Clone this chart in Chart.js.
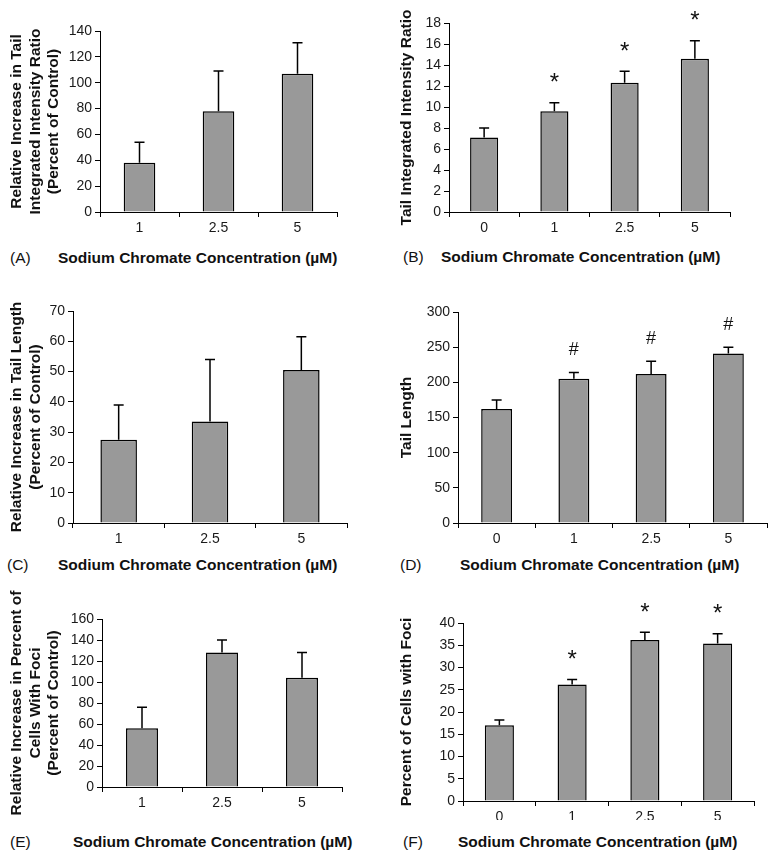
<!DOCTYPE html>
<html>
<head>
<meta charset="utf-8">
<script src="https://cdn.jsdelivr.net/npm/chart.js@4.4.1/dist/chart.umd.min.js"></script>
<style>
  body { margin: 0; background: #fff; font-family: "Liberation Sans", Arial, sans-serif; }
  #page { position: relative; width: 776px; height: 858px; overflow: hidden; }
  canvas { position: absolute; }
  .lbl { position: absolute; font-size: 15.5px; line-height: 18px; color: #111; white-space: nowrap; }
  .xt { font-weight: bold; }
</style>
</head>
<body>
<div id="page"></div>
<script>
// --- Data ---
const doses3 = ['1', '2.5', '5'];
const doses4 = ['0', '1', '2.5', '5'];

// (A) relative increase in tail integrated intensity ratio
const meanA = [38, 78, 107];
const errA = [16, 31, 24];
// (B) tail integrated intensity ratio
const meanB = [7.1, 9.6, 12.3, 14.6];
const errB = [0.9, 0.8, 1.1, 1.7];
const markB = ['', '*', '*', '*'];
// (C) relative increase in tail length
const meanC = [27.5, 33.5, 50.5];
const errC = [11.5, 20.5, 11];
// (D) tail length
const meanD = [162, 205, 212, 241];
const errD = [13, 9, 18, 9];
const markD = ['', '#', '#', '#'];
// (E) relative increase in percent of cells with foci
const meanE = [56, 128, 104];
const errE = [20, 12, 24];
// (F) percent of cells with foci
const meanF = [17, 26.2, 36.2, 35.4];
const errF = [1.2, 1.1, 1.7, 2.2];
const markF = ['', '*', '*', '*'];

const xTitle = 'Sodium Chromate Concentration (µM)';

const page = document.getElementById('page');
const FONT = '"Liberation Sans", Arial, sans-serif';

function addText(text, left, centerY, cls) {
    const d = document.createElement('div');
    d.className = 'lbl ' + (cls || '');
    d.textContent = text;
    d.style.left = left + 'px';
    d.style.top = (centerY - 9) + 'px';
    page.appendChild(d);
}

function makePanel(p) {
    const cv = document.createElement('canvas');
    cv.width = p.box.w;
    cv.height = p.box.h;
    cv.style.left = p.box.left + 'px';
    cv.style.top = p.box.top + 'px';
    page.appendChild(cv);

    // error bars (upper only) + significance marks
    const errorBars = {
        id: 'errorBars' + p.letter,
        afterDatasetsDraw(chart) {
            const ctx = chart.ctx;
            const yScale = chart.scales.y;
            const meta = chart.getDatasetMeta(0);
            ctx.save();
            ctx.strokeStyle = '#000';
            ctx.lineWidth = 1.5;
            meta.data.forEach((bar, i) => {
                const top = yScale.getPixelForValue(p.means[i] + p.errs[i]);
                ctx.beginPath();
                ctx.moveTo(bar.x, bar.y);
                ctx.lineTo(bar.x, top);
                ctx.moveTo(bar.x - 5, top);
                ctx.lineTo(bar.x + 5, top);
                ctx.stroke();
                if (p.marks && p.marks[i]) {
                    const isHash = p.marks[i] === '#';
                    ctx.fillStyle = '#111';
                    ctx.font = (isHash ? '18px ' : '24px ') + FONT;
                    ctx.textAlign = 'center';
                    ctx.textBaseline = 'middle';
                    ctx.fillText(p.marks[i], bar.x, top - (isHash ? 22 : 19));
                }
            });
            ctx.restore();
        }
    };

    new Chart(cv.getContext('2d'), {
        type: 'bar',
        data: {
            labels: p.labels,
            datasets: [{
                data: p.means,
                backgroundColor: '#999999',
                borderColor: '#000',
                borderWidth: 1.5,
                borderSkipped: 'bottom',
                barPercentage: 0.4,
                categoryPercentage: 1
            }]
        },
        options: {
            responsive: false,
            animation: false,
            devicePixelRatio: 1,
            layout: {
                padding: {
                    top: p.plot.t - p.box.top,
                    right: p.box.left + p.box.w - p.plot.r,
                    left: 0,
                    bottom: 0
                }
            },
            plugins: { legend: { display: false }, tooltip: { enabled: false } },
            scales: {
                x: {
                    grid: { offset: true, drawOnChartArea: false, drawTicks: true, tickLength: 5, color: '#000' },
                    border: { color: '#000', width: 1 },
                    ticks: { color: '#1a1a1a', font: { family: FONT, size: 14 }, padding: 3 },
                    afterFit: s => { s.height = p.box.top + p.box.h - p.plot.b; }
                },
                y: {
                    min: 0,
                    max: p.max,
                    ticks: { stepSize: p.step, color: '#1a1a1a', font: { family: FONT, size: 14 }, padding: 3 },
                    grid: { drawOnChartArea: false, drawTicks: true, tickLength: 5, color: '#000' },
                    border: { color: '#000', width: 1 },
                    title: {
                        display: true,
                        text: p.yTitle,
                        color: '#111',
                        font: { family: FONT, size: 15.5, weight: 'bold', lineHeight: 1.18 },
                        padding: { top: 8, bottom: 0 }
                    },
                    afterFit: s => { s.width = p.plot.l - p.box.left; }
                }
            }
        },
        plugins: [errorBars]
    });

    addText('(' + p.letter + ')', p.letterX, p.titleY);
    addText(xTitle, p.titleX, p.titleY, 'xt');
}

makePanel({
    letter: 'A', labels: doses3, means: meanA, errs: errA, max: 140, step: 20,
    yTitle: ['Relative Increase in Tail', 'Integrated Intensity Ratio', '(Percent of Control)'],
    box: { left: 0, top: 0, w: 388, h: 240 }, plot: { l: 100, r: 337, t: 31, b: 212 },
    letterX: 10, titleX: 58, titleY: 258
});
makePanel({
    letter: 'B', labels: doses4, means: meanB, errs: errB, marks: markB, max: 18, step: 2,
    yTitle: 'Tail Integrated Intensity Ratio',
    box: { left: 390, top: 0, w: 386, h: 240 }, plot: { l: 449, r: 730, t: 23, b: 212 },
    letterX: 403, titleX: 441, titleY: 257
});
makePanel({
    letter: 'C', labels: doses3, means: meanC, errs: errC, max: 70, step: 10,
    yTitle: ['Relative Increase in Tail Length', '(Percent of Control)'],
    box: { left: 0, top: 280, w: 388, h: 270 }, plot: { l: 73, r: 347, t: 311, b: 523 },
    letterX: 7, titleX: 58, titleY: 565
});
makePanel({
    letter: 'D', labels: doses4, means: meanD, errs: errD, marks: markD, max: 300, step: 50,
    yTitle: 'Tail Length',
    box: { left: 390, top: 280, w: 386, h: 270 }, plot: { l: 458, r: 767, t: 312, b: 523 },
    letterX: 400, titleX: 460, titleY: 565
});
makePanel({
    letter: 'E', labels: doses3, means: meanE, errs: errE, max: 160, step: 20,
    yTitle: ['Relative Increase in Percent of', 'Cells With Foci', '(Percent of Control)'],
    box: { left: 0, top: 570, w: 388, h: 250 }, plot: { l: 102, r: 342, t: 619, b: 787 },
    letterX: 10, titleX: 73, titleY: 842
});
makePanel({
    letter: 'F', labels: doses4, means: meanF, errs: errF, marks: markF, max: 40, step: 5,
    yTitle: 'Percent of Cells with Foci',
    box: { left: 390, top: 570, w: 386, h: 250 }, plot: { l: 463, r: 754, t: 623, b: 801 },
    letterX: 403, titleX: 458, titleY: 842
});
</script>
</body>
</html>
